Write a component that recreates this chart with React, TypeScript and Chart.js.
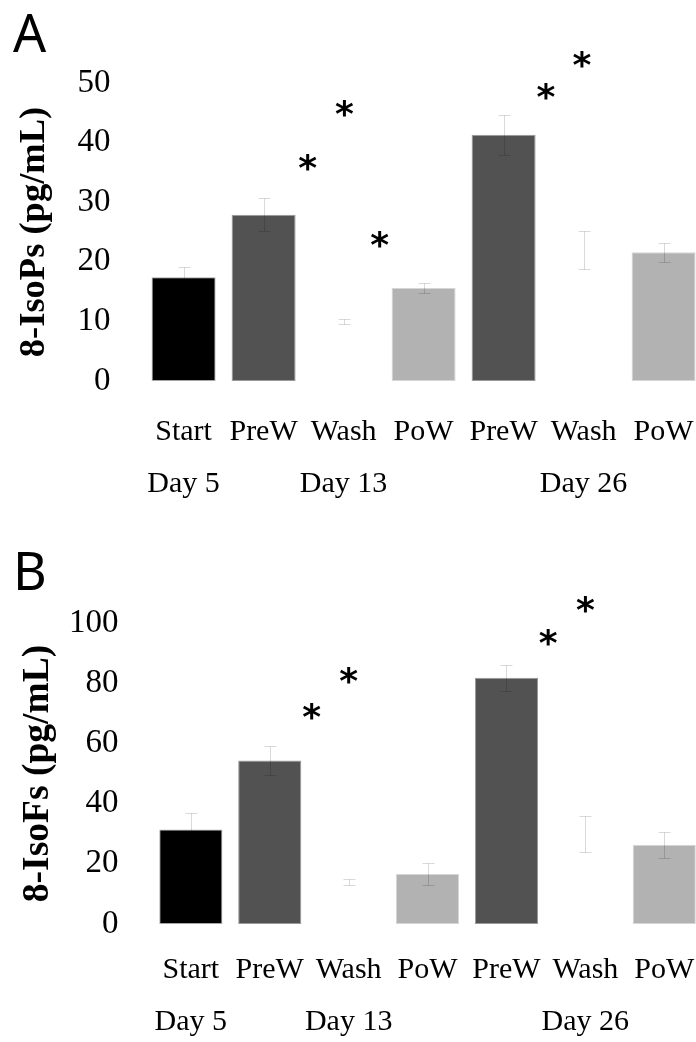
import React, { useEffect, useRef } from "react";
import { Chart, registerables } from "chart.js";

Chart.register(...registerables);

// ---------- data ----------
const categories = ["Start", "PreW", "Wash", "PoW", "PreW", "Wash", "PoW"];
const dayLabels = ["Day 5", "", "Day 13", "", "", "Day 26", ""];
const barColors = ["#000000", "#525252", "#ffffff", "#b2b2b2", "#525252", "#ffffff", "#b2b2b2"];
const barBorders = ["#a6a6a6", "#9a9a9a", "#ffffff", "#d6d6d6", "#9a9a9a", "#ffffff", "#d6d6d6"];

// Panel A: 8-IsoPs (pg/mL)
const isoPsMeans = [17.4, 27.9, 10.0, 15.6, 41.3, 22.0, 21.6];
const isoPsErrors = [1.8, 2.75, 0.45, 0.9, 3.35, 3.15, 1.6];
const isoPsStarX = [1.55, 2.01, 2.45, 4.53, 4.98];
const isoPsStarY = [36.6, 45.8, 23.7, 48.5, 54.0];

// Panel B: 8-IsoFs (pg/mL)
const isoFsMeans = [31.4, 54.3, 13.8, 16.6, 81.8, 30.0, 26.3];
const isoFsErrors = [5.6, 4.7, 1.0, 3.6, 4.3, 6.0, 4.4];
const isoFsStarX = [1.53, 2.0, 4.53, 5.0];
const isoFsStarY = [70.5, 82.4, 95.2, 106.0];

const SERIF = "'Liberation Serif', 'Times New Roman', serif";

type Panel = {
  letter: string;
  title: string;
  means: number[];
  errors: number[];
  starX: number[];
  starY: number[];
  yMax: number;
  yStep: number;
  canvasTop: number;
  canvasHeight: number;
  chartTop: number;
  chartBottom: number;
  chartRight: number;
  yAxisWidth: number;
  xAxisHeight: number;
  xTickPadding: number;
  titleSize: number;
  titlePad: number;
  letterBaseline: number;
};

const CANVAS_W = 720;

const panels: Panel[] = [
  {
    letter: "A",
    title: "8-IsoPs (pg/mL)",
    means: isoPsMeans,
    errors: isoPsErrors,
    starX: isoPsStarX,
    starY: isoPsStarY,
    yMax: 50,
    yStep: 10,
    canvasTop: 0,
    canvasHeight: 520,
    chartTop: 83,
    chartBottom: 381,
    chartRight: 703.6,
    yAxisWidth: 143.6,
    xAxisHeight: 129,
    xTickPadding: 25,
    titleSize: 36.5,
    titlePad: 13,
    letterBaseline: 52,
  },
  {
    letter: "B",
    title: "8-IsoFs (pg/mL)",
    means: isoFsMeans,
    errors: isoFsErrors,
    starX: isoFsStarX,
    starY: isoFsStarY,
    yMax: 100,
    yStep: 20,
    canvasTop: 520,
    canvasHeight: 540,
    chartTop: 103,
    chartBottom: 404,
    chartRight: 703.7,
    yAxisWidth: 151.4,
    xAxisHeight: 124,
    xTickPadding: 20,
    titleSize: 37.5,
    titlePad: 16,
    letterBaseline: 70,
  },
];

function PanelChart({ p }: { p: Panel }) {
  const ref = useRef<HTMLCanvasElement | null>(null);

  useEffect(() => {
    if (!ref.current) return;
    const labels = categories.map((c, i) => [c, dayLabels[i]]);

    const overlay = {
      id: "overlay" + p.letter,
      afterDatasetsDraw(chart: any) {
        const ctx = chart.ctx as CanvasRenderingContext2D;
        const ys = chart.scales.y;
        const xs = chart.scales.x;
        const meta = chart.getDatasetMeta(0);
        // error bars
        ctx.save();
        ctx.globalCompositeOperation = "multiply";
        ctx.strokeStyle = "#d9d9d9";
        ctx.lineWidth = 1;
        meta.data.forEach((el: any, i: number) => {
          const x = Math.round(el.x) + 0.5;
          const yt = Math.round(ys.getPixelForValue(p.means[i] + p.errors[i])) + 0.5;
          const yb = Math.round(ys.getPixelForValue(p.means[i] - p.errors[i])) + 0.5;
          ctx.beginPath();
          ctx.moveTo(x, yt);
          ctx.lineTo(x, yb);
          ctx.moveTo(x - 6, yt);
          ctx.lineTo(x + 6, yt);
          ctx.moveTo(x - 6, yb);
          ctx.lineTo(x + 6, yb);
          ctx.stroke();
        });
        ctx.restore();

        // significance asterisks
        ctx.save();
        ctx.fillStyle = "#000";
        ctx.font = "bold 36px 'DejaVu Sans', sans-serif";
        ctx.textAlign = "center";
        ctx.textBaseline = "alphabetic";
        const m = ctx.measureText("*");
        const shift = (m.actualBoundingBoxAscent - m.actualBoundingBoxDescent) / 2;
        p.starX.forEach((sx, i) => {
          const px = xs.getPixelForValue(sx);
          const py = ys.getPixelForValue(p.starY[i]);
          ctx.fillText("*", px, py + shift);
        });
        ctx.restore();

        // panel letter
        ctx.save();
        ctx.fillStyle = "#000";
        ctx.font = "52px 'Noto Sans', sans-serif";
        ctx.textAlign = "left";
        ctx.textBaseline = "alphabetic";
        ctx.fillText(p.letter, 13, p.letterBaseline);
        ctx.restore();
      },
    };

    const chart = new Chart(ref.current, {
      type: "bar",
      data: {
        labels,
        datasets: [
          {
            data: p.means,
            backgroundColor: barColors,
            borderColor: barBorders,
            borderWidth: 1,
            borderSkipped: false,
            categoryPercentage: 1,
            barPercentage: 0.8,
          },
        ],
      },
      options: {
        responsive: false,
        animation: false,
        devicePixelRatio: 1,
        layout: {
          padding: {
            top: p.chartTop,
            left: 0,
            right: CANVAS_W - p.chartRight,
            bottom: p.canvasHeight - p.chartBottom - p.xAxisHeight,
          },
        },
        plugins: {
          legend: { display: false },
          tooltip: { enabled: false },
        },
        scales: {
          x: {
            grid: { display: false, drawTicks: false },
            border: { display: false },
            ticks: {
              color: "#000",
              autoSkip: false,
              maxRotation: 0,
              minRotation: 0,
              padding: p.xTickPadding,
              font: { family: SERIF, size: 30, lineHeight: 52 / 30 },
            },
            afterFit: (s: any) => {
              s.height = p.xAxisHeight;
            },
          },
          y: {
            min: 0,
            max: p.yMax,
            grid: { display: false, drawTicks: false },
            border: { display: false },
            ticks: {
              stepSize: p.yStep,
              color: "#000",
              padding: 33,
              font: { family: SERIF, size: 33 },
            },
            title: {
              display: true,
              text: p.title,
              color: "#000",
              font: { family: SERIF, size: p.titleSize, weight: "bold", lineHeight: 1.2 },
              padding: { top: p.titlePad, bottom: 0 },
            },
            afterFit: (s: any) => {
              s.width = p.yAxisWidth;
            },
          },
        },
      },
      plugins: [overlay],
    });
    return () => chart.destroy();
  }, [p]);

  return (
    <canvas
      ref={ref}
      width={CANVAS_W}
      height={p.canvasHeight}
      style={{
        position: "absolute",
        left: 0,
        top: p.canvasTop,
        width: CANVAS_W,
        height: p.canvasHeight,
      }}
    />
  );
}

export default function App() {
  return (
    <div
      style={{
        position: "fixed",
        left: 0,
        top: 0,
        width: 696,
        height: 1042,
        overflow: "hidden",
        background: "#fff",
      }}
    >
      {panels.map((p) => (
        <PanelChart key={p.letter} p={p} />
      ))}
    </div>
  );
}
